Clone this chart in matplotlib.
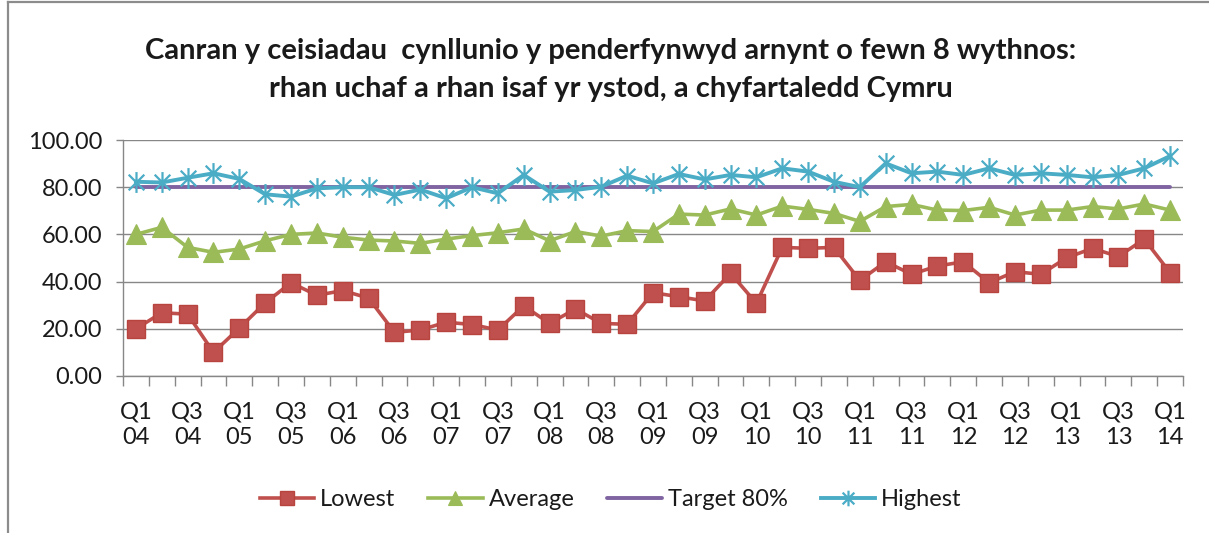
import matplotlib
matplotlib.use("Agg")
import matplotlib.pyplot as plt
from matplotlib.path import Path
from matplotlib.lines import Line2D

plt.rcParams['font.family'] = ['Lato', 'DejaVu Sans']

quarters = ["Q1 04", "Q2 04", "Q3 04", "Q4 04", "Q1 05", "Q2 05", "Q3 05", "Q4 05",
            "Q1 06", "Q2 06", "Q3 06", "Q4 06", "Q1 07", "Q2 07", "Q3 07", "Q4 07",
            "Q1 08", "Q2 08", "Q3 08", "Q4 08", "Q1 09", "Q2 09", "Q3 09", "Q4 09",
            "Q1 10", "Q2 10", "Q3 10", "Q4 10", "Q1 11", "Q2 11", "Q3 11", "Q4 11",
            "Q1 12", "Q2 12", "Q3 12", "Q4 12", "Q1 13", "Q2 13", "Q3 13", "Q4 13",
            "Q1 14"]

lowest = [20.0, 26.8, 26.2, 10.0, 20.3, 31.0, 39.5, 34.2, 36.2, 33.0,
          18.5, 19.5, 22.8, 21.8, 19.5, 29.7, 22.3, 28.4, 22.3, 21.9,
          35.3, 33.6, 31.8, 43.5, 30.8, 54.5, 54.1, 54.5, 40.5, 48.4,
          43.1, 46.6, 48.4, 39.5, 44.2, 43.1, 50.1, 54.1, 50.6, 58.0,
          43.8]
average = [60.0, 63.0, 54.5, 52.4, 53.8, 57.3, 60.0, 60.6, 58.8, 57.6,
           57.2, 56.2, 58.0, 59.5, 60.7, 62.3, 57.3, 61.2, 59.3, 61.6,
           61.2, 68.6, 68.2, 70.8, 68.2, 72.0, 70.6, 68.9, 65.5, 71.8,
           72.7, 70.3, 70.1, 71.5, 68.2, 70.3, 70.3, 71.8, 70.8, 72.9,
           70.3]
target = [80, 80, 80, 80, 80, 80, 80, 80, 80, 80,
          80, 80, 80, 80, 80, 80, 80, 80, 80, 80,
          80, 80, 80, 80, 80, 80, 80, 80, 80, 80,
          80, 80, 80, 80, 80, 80, 80, 80, 80, 80,
          80]
highest = [82.3, 82.0, 84.0, 85.9, 83.5, 77.0, 76.0, 79.5, 80.0, 80.0,
           76.7, 79.0, 75.3, 80.0, 77.4, 85.2, 78.1, 78.8, 80.2, 84.9,
           81.6, 85.6, 83.3, 85.2, 84.2, 88.0, 86.6, 82.3, 80.0, 90.1,
           85.9, 86.6, 85.2, 88.0, 85.2, 85.9, 85.2, 84.2, 85.2, 88.0,
           93.2]

series_names = ["Lowest", "Average", "Target 80%", "Highest"]
title_lines = ["Canran y ceisiadau  cynllunio y penderfynwyd arnynt o fewn 8 wythnos:",
               "rhan uchaf a rhan isaf yr ystod, a chyfartaledd Cymru"]
yticks = [0, 20, 40, 60, 80, 100]

W, H = 1209, 533
fig = plt.figure(figsize=(W / 100, H / 100), dpi=100)
ax = fig.add_axes([123 / W, 1 - 376 / H, (1183 - 123) / W, (376 - 140) / H])

x = list(range(len(quarters)))

# star marker: vertical + two diagonals
star = Path([(0, -1), (0, 1), (-0.75, -0.75), (0.75, 0.75), (-0.75, 0.75), (0.75, -0.75)],
            [Path.MOVETO, Path.LINETO, Path.MOVETO, Path.LINETO, Path.MOVETO, Path.LINETO])

c_low, c_avg, c_tgt, c_high = "#C0504D", "#9BBB59", "#8064A2", "#4BACC6"

ax.plot(x, lowest, color=c_low, lw=2.6, marker="s", markersize=12.5,
        markerfacecolor=c_low, markeredgecolor="#B8443F", markeredgewidth=1.0,
        label=series_names[0], zorder=3)
ax.plot(x, average, color=c_avg, lw=2.6, marker="^", markersize=14,
        markerfacecolor=c_avg, markeredgecolor=c_avg, markeredgewidth=0.8,
        label=series_names[1], zorder=4)
ax.plot(x, target, color=c_tgt, lw=2.8, label=series_names[2], zorder=5,
        solid_capstyle="round")
ax.plot(x, highest, color=c_high, lw=2.8, marker=star, markersize=15,
        markerfacecolor="none", markeredgecolor=c_high, markeredgewidth=1.6,
        label=series_names[3], zorder=6)

ax.set_xlim(-0.5, len(quarters) - 0.5)
ax.set_ylim(0, 100)

grid_c = "#878787"
ax.set_yticks(yticks)
ax.set_yticklabels([f"{v:.2f}" for v in yticks])
ax.yaxis.grid(True, color=grid_c, lw=1.0)
ax.set_axisbelow(True)

label_idx = x[::2]
ax.set_xticks(label_idx)
ax.set_xticklabels([quarters[i].replace(" ", "\n") for i in label_idx], linespacing=1.3)
ax.set_xticks([i - 0.5 for i in x] + [len(quarters) - 0.5], minor=True)
ax.tick_params(axis="x", which="major", length=0, pad=18, labelsize=17, colors="#1a1a1a")
ax.tick_params(axis="x", which="minor", length=7, width=1.0, color=grid_c)
ax.tick_params(axis="y", which="major", length=5, width=1.0, color=grid_c,
               pad=10, labelsize=17, labelcolor="#1a1a1a")

for s in ["top", "right"]:
    ax.spines[s].set_visible(False)
for s in ["left", "bottom"]:
    ax.spines[s].set_color(grid_c)
    ax.spines[s].set_linewidth(1.0)

fig.text(0.505, 1 - 51 / H, title_lines[0], ha="center", va="center",
         fontsize=21, fontweight="bold", color="#1a1a1a")
fig.text(0.505, 1 - 89 / H, title_lines[1], ha="center", va="center",
         fontsize=21, fontweight="bold", color="#1a1a1a")

leg = fig.legend(loc="center", bbox_to_anchor=(0.505, 1 - 500 / H), ncol=4, frameon=False,
                 fontsize=17, handlelength=2.3, handletextpad=0.25, columnspacing=1.4,
                 markerscale=0.75)
for t in leg.get_texts():
    t.set_color("#1a1a1a")

# outer frame (left & top)
fig.add_artist(Line2D([7.5 / W, 7.5 / W], [0, 1 - 1.5 / H], color="#8C8C8C", lw=1.6,
                      transform=fig.transFigure))
fig.add_artist(Line2D([7.5 / W, 1], [1 - 1.5 / H, 1 - 1.5 / H], color="#8C8C8C", lw=1.6,
                      transform=fig.transFigure))

fig.savefig("out.png", dpi=100, facecolor="white")
